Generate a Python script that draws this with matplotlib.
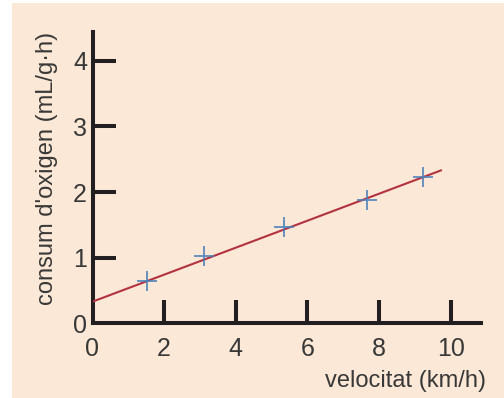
import matplotlib
matplotlib.use("Agg")
import matplotlib.pyplot as plt
from matplotlib.patches import Rectangle

# Data
speed = [1.51, 3.11, 5.36, 7.66, 9.24]
oxygen = [0.65, 1.02, 1.47, 1.88, 2.23]
fit_x = [0.0, 9.73]
fit_y = [0.33, 2.33]
xticks = [0, 2, 4, 6, 8, 10]
yticks = [0, 1, 2, 3, 4]
xlabel = "velocitat (km/h)"
ylabel = "consum d'oxigen (mL/g·h)"

plt.rcParams['font.family'] = ['Liberation Sans', 'DejaVu Sans']

W, H = 504, 398
fig = plt.figure(figsize=(W / 100, H / 100), dpi=100)
fig.patch.set_facecolor('white')
bg = '#FCE8D6'
fig.patches.append(Rectangle((12 / W, 0), 1 - 12 / W, 1 - 3 / H, transform=fig.transFigure,
                             facecolor=bg, edgecolor='none', zorder=-10))

x0, x1 = 92.5, 481.0
y0, y1 = 323.3, 32.0
ax = fig.add_axes([x0 / W, (H - y0) / H, (x1 - x0) / W, (y0 - y1) / H])
ax.set_facecolor('none')
ax.set_xlim(0, 10.85)
ax.set_ylim(0, 4.44)

axc = '#231F20'
txt = '#383838'
for s in ['top', 'right']:
    ax.spines[s].set_visible(False)
for s in ['left', 'bottom']:
    ax.spines[s].set_linewidth(2.9)
    ax.spines[s].set_color(axc)
    ax.spines[s].set_capstyle('projecting')

ax.plot(fit_x, fit_y, color='#B23240', lw=1.5, zorder=3)
ax.plot(speed, oxygen, linestyle='none', marker='+', markersize=14, markeredgewidth=1.3,
        color='#4A80BC', zorder=4, alpha=0.9)

ax.set_xticks(xticks)
ax.set_yticks(yticks)
ax.set_xticklabels([str(v) for v in xticks])
ax.set_yticklabels([str(v) for v in yticks])
ax.tick_params(axis='both', direction='in', length=16.5, width=2.9, color=axc,
               labelsize=18, labelcolor=txt)
ax.tick_params(axis='x', pad=10)
ax.tick_params(axis='y', pad=4)
ax.xaxis.get_major_ticks()[0].tick1line.set_visible(False)
ax.yaxis.get_major_ticks()[0].tick1line.set_visible(False)

ax.set_xlabel(xlabel, fontsize=17, color=txt, ha='right', va='center')
ax.xaxis.set_label_coords((486 - x0) / (x1 - x0), (y0 - 381) / (y0 - y1))
ax.set_ylabel(ylabel, fontsize=17, color=txt, ha='center', va='center')
ax.yaxis.set_label_coords((47 - x0) / (x1 - x0), (y0 - 168.5) / (y0 - y1))

fig.savefig('out.png', dpi=100, facecolor=fig.get_facecolor())
